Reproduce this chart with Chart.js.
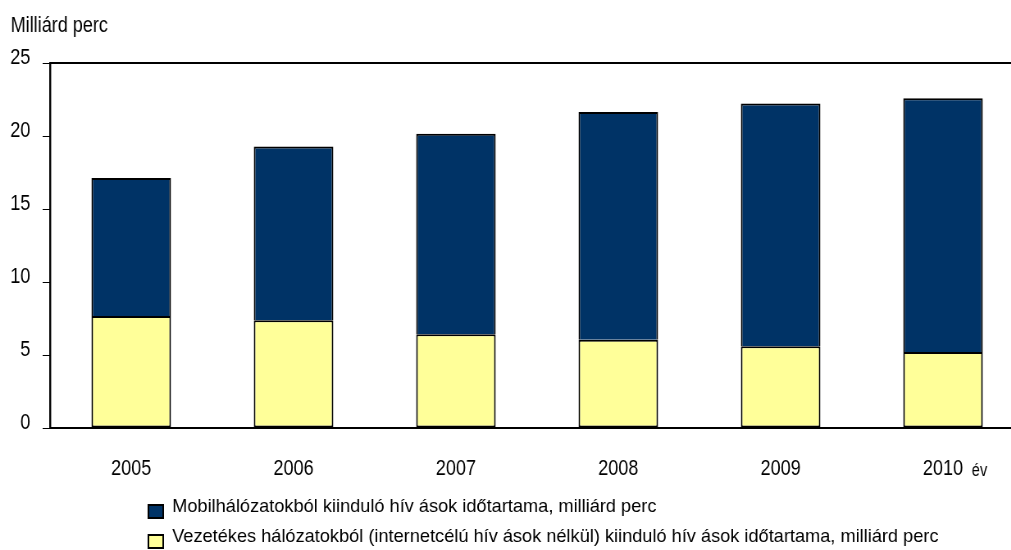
<!DOCTYPE html>
<html>
<head>
<meta charset="utf-8">
<script src="https://cdn.jsdelivr.net/npm/chart.js@4/dist/chart.umd.min.js"></script>
<style>
  html, body { margin: 0; padding: 0; background: #fff; overflow: hidden; }
  #wrap { width: 1011px; height: 550px; overflow: hidden; position: relative; }
  /* the source uses a narrow face: draw wide, squeeze horizontally */
  #chart { display: block; transform: scaleX(0.82); transform-origin: 0 0; }
</style>
</head>
<body>
<div id="wrap"><canvas id="chart" width="1250" height="550"></canvas></div>
<script>
const years = ['2005', '2006', '2007', '2008', '2009', '2010'];
const vezetekes = [7.67, 7.38, 6.42, 6.05, 5.6, 5.2];
const mobil = [9.45, 11.9, 13.74, 15.59, 16.62, 17.38];
const yTicks = [0, 5, 10, 15, 20, 25];

const labelMobil = 'Mobilhálózatokból kiinduló hív ások időtartama, milliárd perc';
const labelVez = 'Vezetékes hálózatokból (internetcélú hív ások nélkül) kiinduló hív ások időtartama, milliárd perc';
const NAVY = '#003366';
const YELLOW = '#ffff99';
const FONT = '"Liberation Sans", Arial, sans-serif';
const SQ = 0.82;

Chart.defaults.font.family = FONT;
Chart.defaults.color = '#000';

const extras = {
  id: 'extras',
  afterDraw(chart) {
    const {ctx, chartArea} = chart;
    const {left, right, top} = chartArea;
    ctx.save();
    // top frame line
    ctx.strokeStyle = '#000';
    ctx.lineWidth = 2;
    ctx.beginPath();
    ctx.moveTo(left, top);
    ctx.lineTo(right, top);
    ctx.stroke();

    ctx.fillStyle = '#000';
    ctx.textBaseline = 'alphabetic';
    ctx.font = '22px ' + FONT;
    ctx.fillText('Milliárd perc', 13, 32);
    ctx.font = '18px ' + FONT;
    ctx.fillText('év', 1185, 476);

    // legend: mobile first, then fixed line
    const rows = [chart.data.datasets[1], chart.data.datasets[0]];
    const bases = [512, 542];
    rows.forEach((ds, i) => {
      const b = bases[i];
      ctx.fillStyle = ds.backgroundColor;
      ctx.fillRect(181, b - 7, 18, 13);
      ctx.lineWidth = 2;
      ctx.strokeStyle = '#000';
      ctx.strokeRect(181, b - 7, 18, 13);
      // legend text is not condensed in the source
      ctx.save();
      ctx.translate(210, b);
      ctx.scale(1 / SQ, 1);
      ctx.fillStyle = '#000';
      ctx.font = '18.2px ' + FONT;
      ctx.fillText(ds.label, 0, 0);
      ctx.restore();
    });
    ctx.restore();
  }
};

new Chart(document.getElementById('chart'), {
  type: 'bar',
  data: {
    labels: years,
    datasets: [
      {label: labelVez, data: vezetekes, backgroundColor: YELLOW, borderColor: '#000', borderWidth: 2, borderSkipped: false},
      {label: labelMobil, data: mobil, backgroundColor: NAVY, borderColor: '#000', borderWidth: 2, borderSkipped: 'start'}
    ]
  },
  plugins: [extras],
  options: {
    responsive: false,
    animation: false,
    events: [],
    layout: {padding: {top: 63, right: 1, bottom: 0, left: 0}},
    datasets: {bar: {barPercentage: 0.49, categoryPercentage: 1}},
    plugins: {legend: {display: false}, tooltip: {enabled: false}},
    scales: {
      x: {
        stacked: true,
        grid: {display: false, drawTicks: false},
        border: {display: true, color: '#000', width: 2},
        ticks: {font: {size: 22}, color: '#000', padding: 28, maxRotation: 0},
        afterFit: s => { s.height = 122; }
      },
      y: {
        stacked: true,
        min: 0,
        max: 25,
        afterBuildTicks: s => { s.ticks = yTicks.map(v => ({value: v})); },
        grid: {drawOnChartArea: false, drawTicks: true, tickLength: 9, color: '#000', lineWidth: 1},
        border: {display: true, color: '#000', width: 2.4},
        ticks: {font: {size: 22}, color: '#000', padding: 15, labelOffset: -5},
        afterFit: s => { s.width = 61; }
      }
    }
  }
});
</script>
</body>
</html>
